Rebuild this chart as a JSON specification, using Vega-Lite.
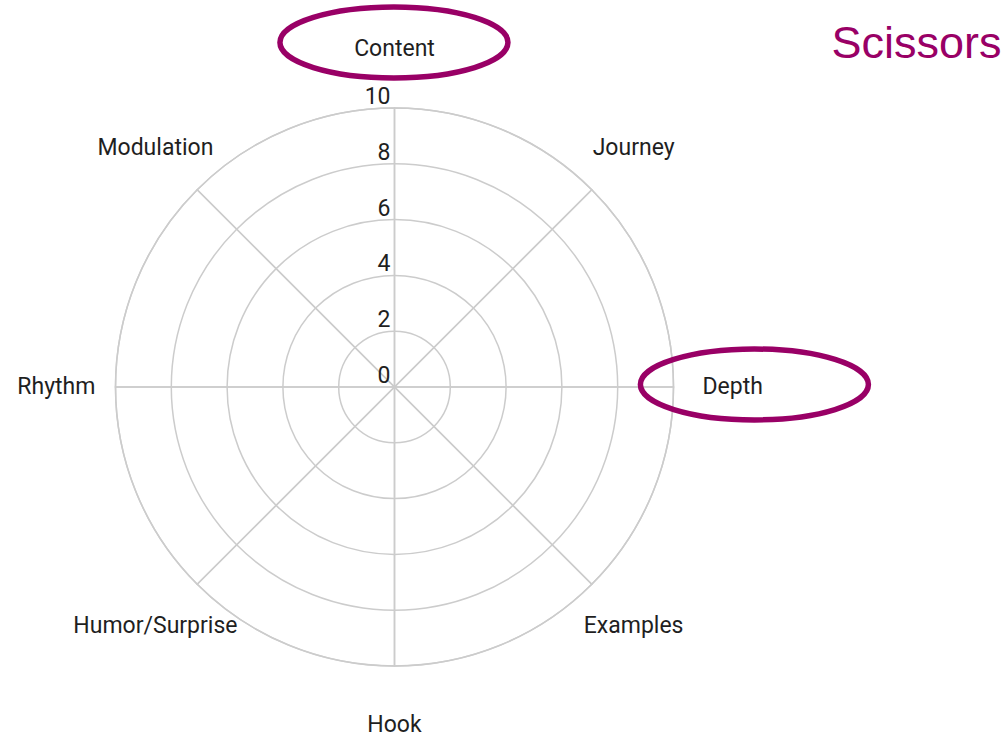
{
  "$schema": "https://vega.github.io/schema/vega-lite/v6.json",
  "width": 789,
  "height": 774,
  "autosize": "none",
  "padding": {"left": 0, "top": 0, "right": 219, "bottom": 0},
  "background": "white",
  "config": {"view": {"stroke": null}, "font": "Roboto"},
  "datasets": {
    "axes": [
      {"axis": "Content", "order": 0},
      {"axis": "Journey", "order": 1},
      {"axis": "Depth", "order": 2},
      {"axis": "Examples", "order": 3},
      {"axis": "Hook", "order": 4},
      {"axis": "Humor/Surprise", "order": 5},
      {"axis": "Rhythm", "order": 6},
      {"axis": "Modulation", "order": 7}
    ],
    "rings": [{"v": 0}, {"v": 2}, {"v": 4}, {"v": 6}, {"v": 8}, {"v": 10}],
    "highlights": [
      {"label": "Content", "x": -0.02, "y": 12.35},
      {"label": "Depth", "x": 12.9, "y": 0.09}
    ],
    "titles": [{"t": "Scissors", "x": 15.66, "y": 11.79}]
  },
  "layer": [
    {
      "data": {"name": "axes"},
      "mark": {"type": "arc", "filled": false, "stroke": "#cccccc", "strokeWidth": 1.5},
      "encoding": {
        "theta": {"aggregate": "count", "type": "quantitative", "stack": true, "scale": {"domain": [0, 8]}},
        "detail": {"field": "axis", "type": "nominal"},
        "radius": {"datum": 10, "type": "quantitative", "scale": {"type": "linear", "domain": [0, 10], "range": [0, 279], "zero": true}}
      }
    },
    {
      "data": {"name": "rings"},
      "transform": [{"filter": "datum.v > 0"}],
      "mark": {"type": "arc", "filled": false, "stroke": "#cccccc", "strokeWidth": 1.5, "theta": 0, "theta2": 6.2832},
      "encoding": {
        "radius": {"field": "v", "type": "quantitative", "stack": null, "scale": {"type": "linear", "domain": [0, 10], "range": [0, 279], "zero": true}}
      }
    },
    {
      "data": {"name": "rings"},
      "mark": {"type": "text", "align": "right", "baseline": "alphabetic", "dx": -4, "dy": -4, "fontSize": 23, "color": "#1f1f1f", "font": "Roboto"},
      "encoding": {
        "theta": {"datum": 0, "type": "quantitative", "scale": {"domain": [0, 8]}},
        "radius": {"field": "v", "type": "quantitative", "stack": null, "scale": {"type": "linear", "domain": [0, 10], "range": [0, 279], "zero": true}},
        "text": {"field": "v", "type": "quantitative"}
      }
    },
    {
      "data": {"name": "axes"},
      "mark": {"type": "text", "align": "center", "baseline": "middle", "fontSize": 23, "color": "#1f1f1f", "font": "Roboto"},
      "encoding": {
        "theta": {"field": "order", "type": "quantitative", "stack": null, "scale": {"domain": [0, 8]}},
        "radius": {"datum": 12.12, "type": "quantitative", "scale": {"type": "linear", "domain": [0, 10], "range": [0, 279], "zero": true}},
        "text": {"field": "axis", "type": "nominal"}
      }
    },
    {
      "data": {"name": "highlights"},
      "mark": {"type": "point", "shape": "M-1,0A1,0.311 0 1,0 1,0A1,0.311 0 1,0 -1,0Z", "size": 51984, "filled": false, "stroke": "#990066", "strokeWidth": 5.5, "opacity": 1},
      "encoding": {
        "x": {"field": "x", "type": "quantitative", "axis": null, "scale": {"domain": [-14.14, 14.14], "zero": false, "nice": false}},
        "y": {"field": "y", "type": "quantitative", "axis": null, "scale": {"domain": [-13.871, 13.871], "zero": false, "nice": false}}
      }
    },
    {
      "data": {"name": "titles"},
      "mark": {"type": "text", "align": "left", "baseline": "alphabetic", "fontSize": 45, "font": "Liberation Sans", "color": "#990066"},
      "encoding": {
        "x": {"field": "x", "type": "quantitative", "axis": null, "scale": {"domain": [-14.14, 14.14], "zero": false, "nice": false}},
        "y": {"field": "y", "type": "quantitative", "axis": null, "scale": {"domain": [-13.871, 13.871], "zero": false, "nice": false}},
        "text": {"field": "t", "type": "nominal"}
      }
    }
  ]
}
